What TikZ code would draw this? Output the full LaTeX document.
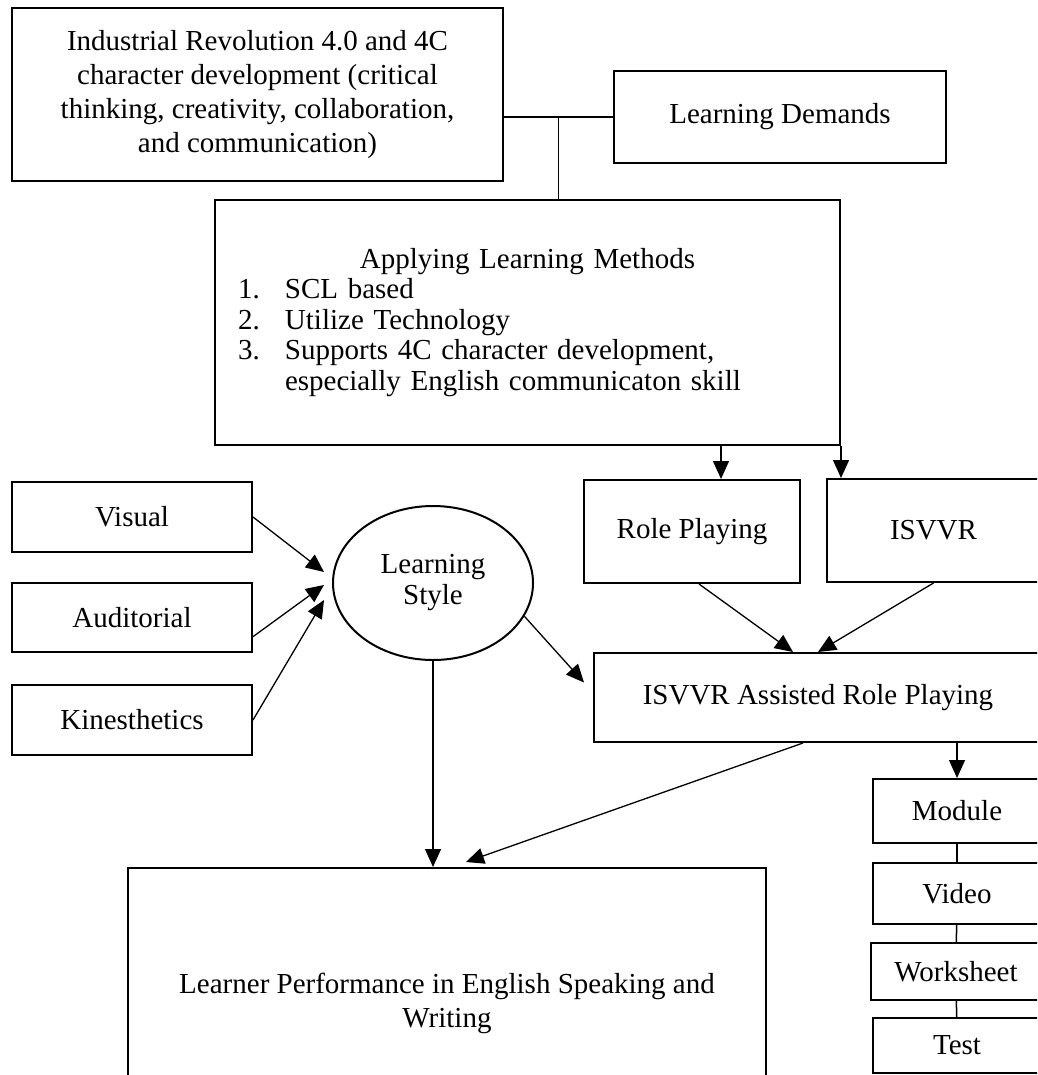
\documentclass[tikz,border=0pt]{standalone}
\usepackage{fontspec}
\setmainfont{Liberation Serif}
\usetikzlibrary{shapes.geometric}
\usetikzlibrary{arrows.meta}
\usetikzlibrary{calc}

\begin{document}
\begin{tikzpicture}[x=1pt,y=-1pt,
  font=\fontsize{29}{34}\selectfont,
  box/.style={draw,line width=2pt,rectangle,inner sep=0pt,align=center},
  arr/.style={line width=1.3pt,-{Triangle[length=18pt,width=16pt]}},
  link/.style={line width=1.5pt}]
  \useasboundingbox (0,0) rectangle (1037,1075);
  \clip (0,0) rectangle (1037,1075);
  \node[box,minimum width=491pt,minimum height=173pt] (indus) at (257.5,94.5)
    {Industrial Revolution 4.0 and 4C\\character development (critical\\thinking, creativity, collaboration,\\and communication)};
  \node[box,minimum width=332pt,minimum height=92pt] (demands) at (780,117) {Learning Demands};
  \node[box,minimum width=625pt,minimum height=245pt,text width=579pt,inner xsep=23pt,align=left,
    font=\fontsize{29}{30.5}\selectfont] (methods) at (527.5,322.5)
    {\makebox[\linewidth][c]{Applying Learning Methods}\\
     \makebox[47pt][l]{1.}SCL based\\
     \makebox[47pt][l]{2.}Utilize Technology\\
     \makebox[47pt][l]{3.}Supports 4C character development,\\
     \hspace*{47pt}especially English communicaton skill};
  \node[box,minimum width=216pt,minimum height=103pt] (role) at (692,531.5) {Role Playing};
  \node[box,minimum width=213pt,minimum height=103pt] (isvvr) at (933.5,530.5) {ISVVR};
  \node[box,minimum width=448pt,minimum height=89pt] (assisted) at (818,697.5) {ISVVR Assisted Role Playing};
  \node[box,minimum width=240pt,minimum height=70pt] (visual) at (132,517) {Visual};
  \node[box,minimum width=240pt,minimum height=69pt] (auditorial) at (132,617.5) {Auditorial};
  \node[box,minimum width=240pt,minimum height=70pt] (kines) at (132,720) {Kinesthetics};
  \node[draw,ellipse,line width=2pt,inner sep=0pt,minimum width=200pt,minimum height=154pt,align=center,
    font=\fontsize{29}{31}\selectfont] (lstyle) at (433,583) {Learning\\Style};
  \node[box,minimum width=638pt,minimum height=270pt] (learner) at (447,1003)
    {Learner Performance in English Speaking and\\Writing};
  \node[box,minimum width=168pt,minimum height=64pt] (module) at (957,811) {Module};
  \node[box,minimum width=168pt,minimum height=61pt] (video) at (957,893.5) {Video};
  \node[box,minimum width=170pt,minimum height=57pt] (worksheet) at (956,971.5) {Worksheet};
  \node[box,minimum width=168pt,minimum height=55pt] (test) at (957,1045.5) {Test};

  \coordinate (joint) at ($(demands.west)!0.5!(demands.west -| indus.east)$);
  \draw[link] (demands.west -| indus.east) -- (demands.west);
  \draw[link] (joint) -- (joint |- methods.north);
  \draw[arr] ([xshift=29pt]role.north |- methods.south) -- ([xshift=29pt]role.north);
  \draw[arr] (methods.south east) -- (methods.south east |- isvvr.north);
  \draw[arr] ([xshift=7pt]role.south) -- ([xshift=-25pt]assisted.north);
  \draw[arr] (isvvr.south) -- (assisted.north);
  \draw[arr] (visual.east) -- ($(lstyle.west)+(-8,-11)$);
  \draw[arr] (auditorial.-9) -- ($(lstyle.west)+(-8,2)$);
  \draw[arr] (kines.east) -- ($(lstyle.west)+(-8,17)$);
  \draw[arr] (lstyle.-20) -- ($(assisted.west)+(-9,-15)$);
  \draw[arr] (lstyle.south) -- (lstyle.south |- learner.north);
  \draw[arr] ([xshift=-15pt]assisted.south) -- ($(learner.north)+(19,-5)$);
  \draw[arr] (assisted.south -| module.north) -- (module.north);
  \draw[link] (module) -- (video);
  \draw[link] (video) -- (worksheet);
  \draw[link] (worksheet) -- (test);
\end{tikzpicture}
\end{document}
